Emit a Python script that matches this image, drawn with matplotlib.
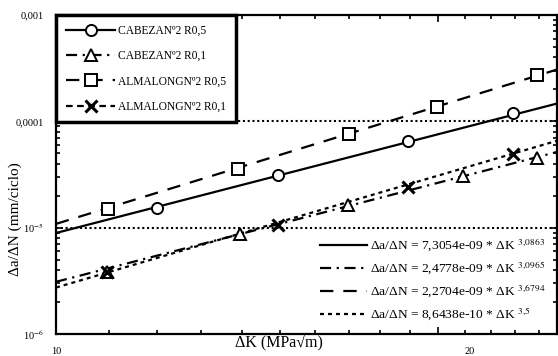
import numpy as np
import matplotlib
matplotlib.use("Agg")
import matplotlib.pyplot as plt
from matplotlib.lines import Line2D
from matplotlib.ticker import FixedLocator, NullFormatter, LogLocator
from matplotlib.transforms import ScaledTranslation

plt.rcParams['font.family'] = ['Liberation Serif', 'DejaVu Serif']
plt.rcParams['mathtext.fontset'] = 'stix'

# datos (dK en MPa*sqrt(m), da/dN en mm/ciclo)
dk_cab05 = [12.0, 14.96, 18.93, 22.9]
da_cab05 = [1.52e-5, 3.16e-5, 6.57e-5, 1.19e-4]

dk_cab01 = [10.97, 13.96, 16.98, 20.9, 23.9]
da_cab01 = [3.86e-6, 8.63e-6, 1.63e-5, 3.03e-5, 4.51e-5]

dk_alm05 = [10.98, 13.9, 17.0, 19.95, 23.9]
da_alm05 = [1.49e-5, 3.53e-5, 7.67e-5, 1.355e-4, 2.72e-4]

dk_alm01 = [10.97, 14.96, 18.93, 22.9]
da_alm01 = [3.86e-6, 1.07e-5, 2.42e-5, 4.92e-5]

series_names = ["CABEZANº2 R0,5", "CABEZANº2 R0,1", "ALMALONGNº2 R0,5", "ALMALONGNº2 R0,1"]

# ajustes de Paris: C * dK^m
fit_C = [7.3054e-09, 2.4778e-09, 2.2704e-09, 8.6438e-10]
fit_C_txt = ["7,3054e-09", "2,4778e-09", "2,2704e-09", "8,6438e-10"]
fit_m = [3.0863, 3.0965, 3.6794, 3.5]
fit_m_txt = ["3{,}0863", "3{,}0965", "3{,}6794", "3{,}5"]

xmin, xmax = 10, 24.8

estilos = ['-', (0, (5, 2.5, 1, 2.5)), (0, (6, 4.5)), (0, (1.8, 1.8))]
marcadores = ['o', '^', 's', 'x']
lw = 1.6

fig = plt.figure(figsize=(5.58, 3.56), dpi=100)
ax = fig.add_axes([56/558, 22/356, 501/558, 319/356])
ax.set_xscale('log')
ax.set_yscale('log')
ax.set_xlim(xmin, xmax)
ax.set_ylim(1e-6, 1e-3)

# lineas de ajuste
xk = np.array([xmin, xmax])
for C, m, ls in zip(fit_C, fit_m, estilos):
    ax.plot(xk, C * xk**m, color='black', lw=lw, linestyle=ls, zorder=2)

# puntos experimentales
datos = [(dk_cab05, da_cab05), (dk_cab01, da_cab01), (dk_alm05, da_alm05), (dk_alm01, da_alm01)]
for (xs, ys), mk in zip(datos, marcadores):
    if mk == 'x':
        ax.plot(xs, ys, linestyle='none', marker='x', ms=8, mew=2.2, color='black', zorder=3)
    else:
        ax.plot(xs, ys, linestyle='none', marker=mk, ms=8, mew=1.4, mfc='white', mec='black', zorder=3)

# rejilla punteada en 1e-4 y 1e-5
for yv in [1e-4, 1e-5]:
    ax.axhline(yv, color='black', lw=1.5, linestyle=(0, (1, 1.3)), zorder=1)

# ejes
for s in ax.spines.values():
    s.set_linewidth(1.6)
ax.yaxis.set_major_locator(FixedLocator([1e-6, 1e-5, 1e-4, 1e-3]))
ax.set_yticklabels(['10$^{-6}$', '10$^{-5}$', '0,0001', '0,001'])
ax.yaxis.set_minor_locator(LogLocator(base=10, subs=np.arange(2, 10)))
ax.yaxis.set_minor_formatter(NullFormatter())
ax.xaxis.set_major_locator(FixedLocator([10, 20]))
ax.set_xticklabels(['10', '20'])
ax.xaxis.set_minor_locator(FixedLocator(np.arange(11, 25)))
ax.xaxis.set_minor_formatter(NullFormatter())
ax.tick_params(which='both', direction='in', top=True, right=True, labelsize=7.5, width=1.2)
ax.tick_params(which='major', length=5)
ax.tick_params(which='minor', length=3)
ax.tick_params(axis='x', pad=9)
ax.tick_params(axis='y', pad=9)
lab20 = ax.get_xticklabels()[1]
lab20.set_transform(lab20.get_transform() + ScaledTranslation(0.31, 0, fig.dpi_scale_trans))

fig.text(279/558, 1 - 343/356, 'ΔK (MPa√m)', ha='center', va='center', fontsize=11.5)
fig.text(15/558, 1 - 219/356, 'Δa/ΔN (mm/ciclo)', ha='center', va='center', fontsize=11, rotation=90)

# leyenda de series
handles = []
for ls, mk in zip(estilos, marcadores):
    if mk == 'x':
        handles.append(Line2D([], [], color='black', lw=lw, linestyle=(0, (3, 2)), marker='x', ms=8, mew=2.2))
    else:
        handles.append(Line2D([], [], color='black', lw=lw, linestyle=ls, marker=mk, ms=8, mew=1.4, mfc='white'))
leg1 = ax.legend(handles, series_names, loc='upper left', bbox_to_anchor=(0, 1), borderaxespad=0,
                 fontsize=8.3, handlelength=4.3, handletextpad=0.2, labelspacing=1.15, borderpad=0.85,
                 fancybox=False, framealpha=1, edgecolor='black')
leg1.get_frame().set_linewidth(2.5)
leg1.set_zorder(5)
ax.add_artist(leg1)

# leyenda de ajustes
etiquetas = ['Δa/ΔN = %s * ΔK $^{%s}$' % (c, m) for c, m in zip(fit_C_txt, fit_m_txt)]
fit_handles = [Line2D([], [], color='black', lw=lw, linestyle=ls) for ls in estilos]
leg2 = ax.legend(fit_handles, etiquetas, loc='lower right', bbox_to_anchor=(1.0, 0.0), borderaxespad=0.45,
                 fontsize=9.7, handlelength=3.5, handletextpad=0.2, labelspacing=0.4, frameon=False)

fig.savefig('out.png', dpi=100)
